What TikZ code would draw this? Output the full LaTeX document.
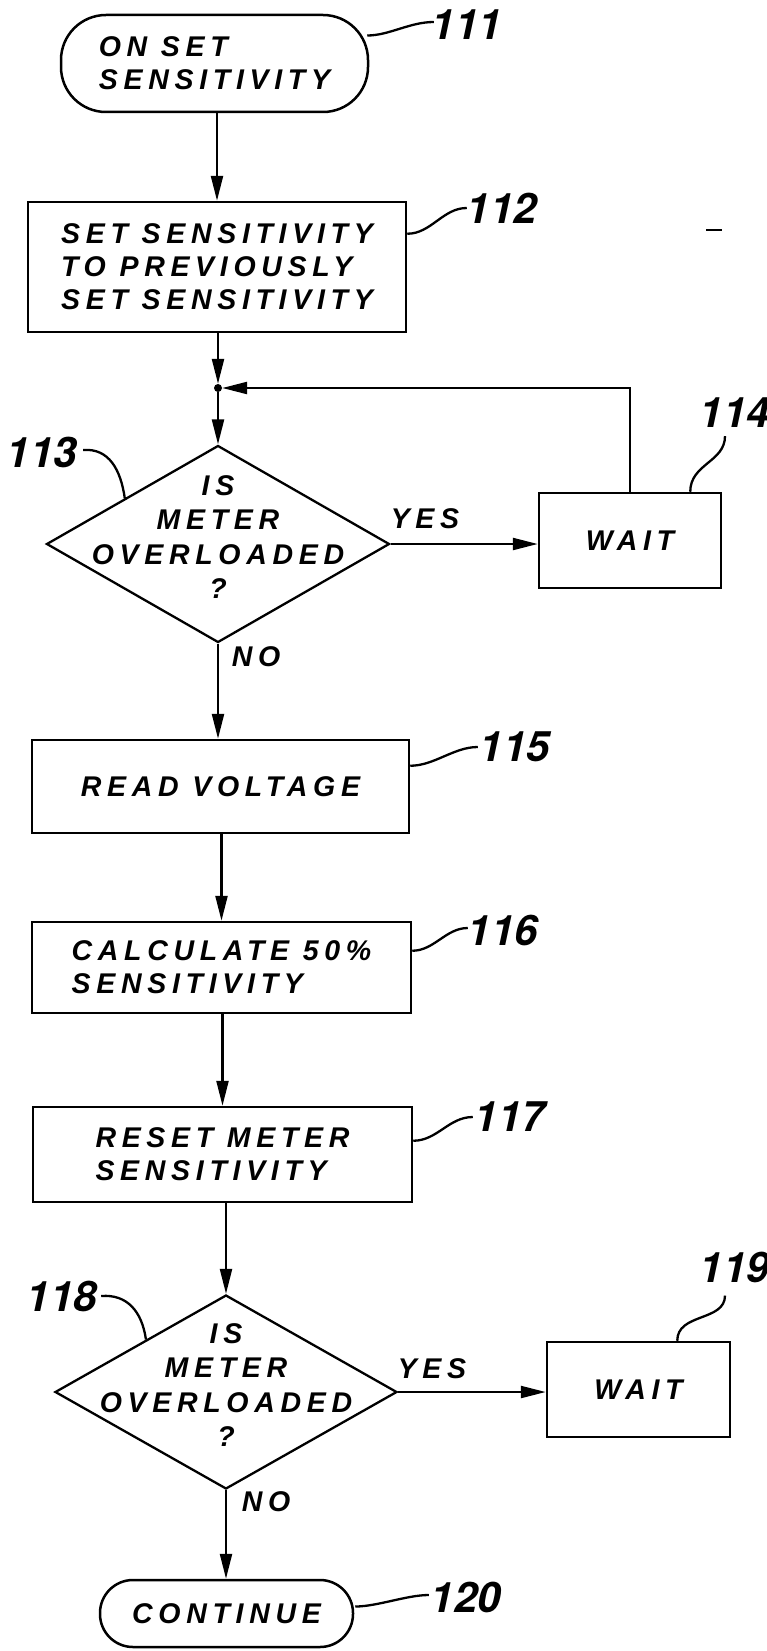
\documentclass[tikz,border=0pt]{standalone}
\usepackage{fontspec}
\setmainfont{Liberation Sans}
\newfontfamily\patfont{Liberation Sans}[LetterSpace=20]
\newfontfamily\numfont{TeX Gyre Heros}
\usetikzlibrary{shapes.geometric,arrows.meta,calc}
\newcommand\boxfont{\patfont\bfseries\itshape\fontsize{28.5}{33}\selectfont}
\newcommand\diafont{\patfont\bfseries\itshape\fontsize{28.5}{34.5}\selectfont}
\newcommand\labfont{\numfont\bfseries\itshape\fontsize{42}{42}\selectfont}
\begin{document}
\begin{tikzpicture}[x=1pt,y=-1pt,
  every node/.style={inner sep=0pt},
  proc/.style={draw, line width=2.5pt, rectangle, font=\boxfont, align=left},
  term/.style={draw, line width=2.5pt, rectangle, font=\boxfont, align=left},
  dia/.style={draw, line width=2.3pt, diamond, minimum width=343pt, minimum height=197pt},
  diatext/.style={font=\diafont, align=center},
  cond/.style={font=\boxfont},
  lab/.style={font=\labfont},
  flow/.style={line width=2.3pt, -{Triangle[length=25pt,width=12pt]}},
  leader/.style={line width=2.3pt},
  dot/.style={circle, fill=black, minimum size=8pt}
]
\fill[white] (0,0) rectangle (767,1651);
\useasboundingbox (0,0) rectangle (767,1651);

% nodes
\node[term, rounded corners=45pt, minimum width=307pt, minimum height=97pt] (t111) at (214.5,63.5) {ON SET\\SENSITIVITY};
\node[proc, minimum width=378pt, minimum height=130pt] (b112) at (217,267) {SET SENSITIVITY\\TO PREVIOUSLY\\SET SENSITIVITY};
\node[dot] (j) at (218,388) {};
\node[dia] (d113) at (218,544) {};
\node[diatext] (d113t) at (218,537) {IS\\METER\\OVERLOADED\\?};
\node[proc, minimum width=182pt, minimum height=95pt] (w114) at (630,540.5) {WAIT};
\node[proc, minimum width=377pt, minimum height=93pt] (b115) at (220.5,786.5) {READ VOLTAGE};
\node[proc, minimum width=379pt, minimum height=91pt] (b116) at (221.5,967.5) {CALCULATE 50\%\\SENSITIVITY};
\node[proc, minimum width=379pt, minimum height=95pt] (b117) at (222.5,1154.5) {RESET METER\\SENSITIVITY};
\node[dia, minimum width=342pt, minimum height=194pt] (d118) at (226,1392) {};
\node[diatext] (d118t) at (226,1385) {IS\\METER\\OVERLOADED\\?};
\node[proc, minimum width=183pt, minimum height=95pt] (w119) at (638.5,1389.5) {WAIT};
\node[term, rounded corners=33pt, minimum width=253pt, minimum height=67pt] (t120) at (226.5,1613.5) {CONTINUE};

% condition labels
\node[cond] (y113) at (425,519) {YES};
\node[cond] (n113) at (256,657) {NO};
\node[cond] (y118) at (432,1369) {YES};
\node[cond] (n118) at (266,1502) {NO};

% reference numerals
\node[lab] (l111) at (467,25) {111};
\node[lab] (l112) at (502,208) {112};
\node[lab] (l113) at (42,452) {113};
\node[lab] (l114) at (735,413) {114};
\node[lab] (l115) at (515,747) {115};
\node[lab] (l116) at (503,930) {116};
\node[lab] (l117) at (510,1117) {117};
\node[lab] (l118) at (62,1296) {118};
\node[lab] (l119) at (735,1267) {119};
\node[lab] (l120) at (466,1597) {120};

% flow connectors
\draw[flow] (b112.north |- t111.south) -- (b112.north);
\draw[flow] (j |- b112.south) -- (j);
\draw[flow] (j) -- (d113.north);
\draw[flow] (d113.east) -- (d113.east -| w114.west);
\draw[flow] (w114.north) -- (w114.north |- j) -- (j);
\draw[flow] (d113.south) -- (d113.south |- b115.north);
\draw[flow] (b116.north |- b115.south) -- (b116.north);
\draw[flow] (b117.north |- b116.south) -- (b117.north);
\draw[flow] (d118.north |- b117.south) -- (d118.north);
\draw[flow] (d118.east) -- (d118.east -| w119.west);
\draw[flow] (d118.south) -- (d118.south |- t120.north);

% leaders
\draw[leader] ($(t111.east)+(-2,-28)$) .. controls +(22,0) and +(-24,0) .. ($(l111.west)+(2,-3)$);
\draw[leader] ($(b112.north east)+(0,33)$) .. controls +(24,0) and +(-24,0) .. ($(l112.west)+(0,0)$);
\draw[leader] ($(l113.east)+(6,-2)$) .. controls +(26,-2) and +(-4,-28) .. ($(d113.west)!0.46!(d113.north)$);
\draw[leader] ($(w114.north east)+(-32,0)$) .. controls +(0,-28) and +(0,26) .. ($(l114.south)+(-10,8)$);
\draw[leader] ($(b115.north east)+(0,27)$) .. controls +(24,0) and +(-24,0) .. ($(l115.west)+(-2,0)$);
\draw[leader] ($(b116.north east)+(0,30)$) .. controls +(22,0) and +(-22,0) .. ($(l116.west)+(0,-2)$);
\draw[leader] ($(b117.north east)+(0,35)$) .. controls +(24,0) and +(-24,0) .. ($(l117.west)+(-2,0)$);
\draw[leader] ($(l118.east)+(4,0)$) .. controls +(26,-2) and +(-4,-28) .. ($(d118.west)!0.535!(d118.north)$);
\draw[leader] ($(w119.north east)+(-54,0)$) .. controls +(0,-28) and +(0,26) .. ($(l119.south)+(-10,13)$);
\draw[leader] ($(t120.east)+(1,-7)$) .. controls +(22,0) and +(-22,0) .. ($(l120.west)+(-2,-2)$);

% stray mark
\draw[line width=2.3pt] (706,230) -- (722,230);
\end{tikzpicture}
\end{document}
